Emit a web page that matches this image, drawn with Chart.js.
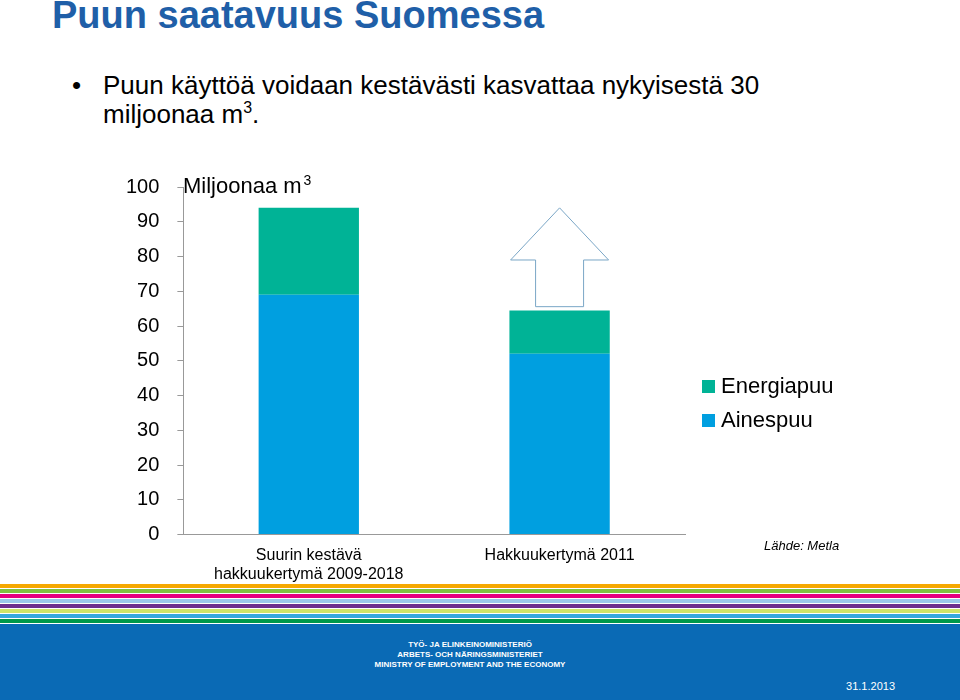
<!DOCTYPE html>
<html><head><meta charset="utf-8">
<script src="https://cdn.jsdelivr.net/npm/chart.js@4.4.0/dist/chart.umd.min.js"></script>
<style>
body{margin:0;width:960px;height:700px;position:relative;overflow:hidden;background:#fff;font-family:"Liberation Sans",Arial,sans-serif}
#title{position:absolute;left:52px;top:-6px;font-size:38px;font-weight:bold;color:#1f5fa8}
#bullet{position:absolute;left:72px;top:71px;font-size:26px;line-height:29px;color:#000}
#bullet .d{position:absolute;left:0;top:0}
#bullet .t{position:absolute;left:31px;top:0;width:715px}
#wrap{position:absolute;left:0;top:150px;width:960px;height:440px}
#footer{position:absolute;left:0;top:584px;width:960px;height:116px}
.st{position:absolute;left:0;width:960px}
#blue{position:absolute;left:0;top:40px;width:960px;height:76px;background:#0a6ab5}
.ft{position:absolute;width:960px;text-align:center;left:-10px;color:#fff;font-weight:bold;font-size:8px}
#date{position:absolute;right:65px;bottom:8px;font-size:11px;color:#fff}
</style></head><body>
<div id="title">Puun saatavuus Suomessa</div>
<div id="bullet"><span class="d">•</span><span class="t">Puun käyttöä voidaan kestävästi kasvattaa nykyisestä 30 miljoonaa m<sup style="font-size:16px;line-height:0">3</sup>.</span></div>
<div id="wrap"><canvas id="c" width="960" height="440"></canvas></div>
<div id="footer">
<div class="st" style="top:0;height:4px;background:#f6a800"></div>
<div class="st" style="top:5px;height:4px;background:#7fc241"></div>
<div class="st" style="top:10px;height:4px;background:#e5007e"></div>
<div class="st" style="top:15px;height:4px;background:#9cc9ea"></div>
<div class="st" style="top:20px;height:4px;background:#6d2f8e"></div>
<div class="st" style="top:25px;height:4px;background:#cfe46a"></div>
<div class="st" style="top:30px;height:4px;background:#35a8e0"></div>
<div class="st" style="top:35px;height:4px;background:#00984a"></div>
<div id="blue">
<div class="ft" style="top:16px">TYÖ- JA ELINKEINOMINISTERIÖ</div>
<div class="ft" style="top:26px">ARBETS- OCH NÄRINGSMINISTERIET</div>
<div class="ft" style="top:36px">MINISTRY OF EMPLOYMENT AND THE ECONOMY</div>
<div id="date">31.1.2013</div>
</div>
</div>
<script>
const categories=[["Suurin kestävä","hakkuukertymä 2009-2018"],"Hakkuukertymä 2011"];
const ainespuu=[69,52];
const energiapuu=[25,12.5];
const arrowRange=[65,94];
const arrowPlugin={id:'arrow',afterDatasetsDraw(ch){
 const x=ch.scales.x,y=ch.scales.y,ctx=ch.ctx;
 const cx=x.getPixelForValue(1),yb=y.getPixelForValue(arrowRange[0])-2,yt=y.getPixelForValue(arrowRange[1]),yh=y.getPixelForValue(79);
 ctx.save();ctx.strokeStyle='#7aa6c6';ctx.fillStyle='#fff';ctx.lineWidth=1;
 ctx.beginPath();ctx.moveTo(cx-24,yb);ctx.lineTo(cx+24,yb);ctx.lineTo(cx+24,yh);ctx.lineTo(cx+49,yh);ctx.lineTo(cx,yt);ctx.lineTo(cx-49,yh);ctx.lineTo(cx-24,yh);ctx.closePath();ctx.fill();ctx.stroke();
 ctx.fillStyle='#000';ctx.font='22px "Liberation Sans"';const t='Miljoonaa m';ctx.fillText(t,183,y.getPixelForValue(100)+6);
 const w=ctx.measureText(t).width;
 ctx.font='14px "Liberation Sans"';ctx.fillText('3',183+w+2,y.getPixelForValue(100)-2);
 ctx.font='italic 13px "Liberation Sans"';ctx.fillText('Lähde: Metla',764,400);
 ctx.restore();}};
new Chart(document.getElementById('c'),{type:'bar',
data:{labels:categories,datasets:[
 {label:'Ainespuu',data:ainespuu,backgroundColor:'#009fe0',stack:'s',categoryPercentage:0.4,barPercentage:1},
 {label:'Energiapuu',data:energiapuu,backgroundColor:'#00b396',stack:'s',categoryPercentage:0.4,barPercentage:1}]},
options:{responsive:false,animation:false,
 layout:{padding:{left:108,right:275,top:37,bottom:3}},
 plugins:{legend:{display:false},tooltip:{enabled:false}},
 scales:{x:{stacked:true,grid:{display:false},border:{color:'#999'},
   ticks:{color:'#000',font:{size:16,family:'"Liberation Sans"'},maxRotation:0}},
  y:{stacked:true,min:0,max:100,border:{color:'#999'},grid:{display:true,drawOnChartArea:false,drawTicks:true,tickLength:6,color:'#999'},
   ticks:{stepSize:10,color:'#000',padding:18,font:{size:20,family:'"Liberation Sans"'}}}}},
plugins:[arrowPlugin,{id:'leg',afterDraw(ch){const c=ch.ctx;c.save();c.font='22px "Liberation Sans"';c.fillStyle='#00b396';c.fillRect(702,230,13,13);c.fillStyle='#009fe0';c.fillRect(702,264,13,13);c.fillStyle='#000';c.textBaseline='middle';c.fillText('Energiapuu',721,237);c.fillText('Ainespuu',721,271);c.restore();}}]});
</script></body></html>
